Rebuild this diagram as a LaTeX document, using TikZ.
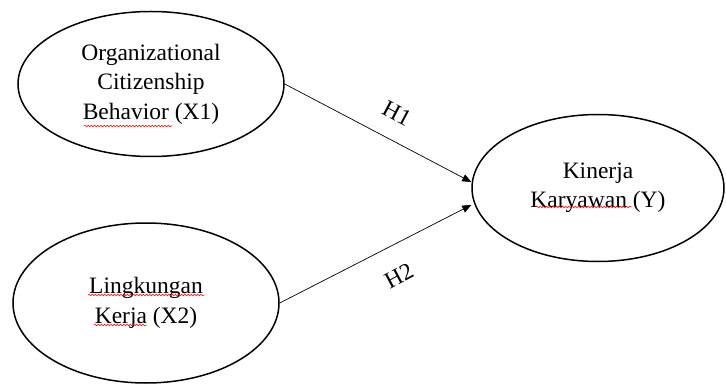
\documentclass[tikz,border=0pt]{standalone}
\usepackage{fontspec}
\setmainfont{Liberation Serif}
\usetikzlibrary{shapes.geometric,arrows.meta,calc,decorations.pathmorphing}
\begin{document}
\begin{tikzpicture}[x=1pt,y=-1pt,
  var/.style={ellipse,draw,line width=1.5pt,inner sep=0pt,align=center,
    font=\fontsize{23.5}{29.5}\selectfont},
  path/.style={line width=0.7pt,-{Triangle[length=9pt,width=7.5pt]}},
  hyp/.style={font=\fontsize{23.5}{27}\selectfont,inner sep=0pt},
  wave/.style={red,line width=0.5pt,decorate,decoration={snake,amplitude=0.9pt,segment length=3.2pt}}]
\useasboundingbox (0,0) rectangle (726,385);
\node[var,minimum width=266pt,minimum height=145pt] (a) at (151,84)
  {Organizational\\Citizenship\\Behavior (X1)};
\node[var,minimum width=266pt,minimum height=160pt] (b) at (146,303)
  {Lingkungan\\Kerja (X2)};
\node[var,minimum width=252pt,minimum height=147pt] (c) at (598,188)
  {Kinerja\\Karyawan (Y)};
\coordinate (t1) at ($(c.west)+(0,-6)$);
\coordinate (t2) at ($(c.west)+(0,17)$);
\draw[path] (a.east) -- (t1);
\draw[path] (b.east) -- (t2);
\node[hyp,rotate=-28] (h1) at (397,113) {H1};
\node[hyp,rotate=28] (h2) at (399,276) {H2};
\draw[wave] ($(a.center)+(-67,42)$) -- ($(a.center)+(21,42)$);
\draw[wave] ($(b.center)+(-58,-8)$) -- ($(b.center)+(58,-8)$);
\draw[wave] ($(b.center)+(-52,22)$) -- ($(b.center)+(1,22)$);
\draw[wave] ($(c.center)+(-62,19)$) -- ($(c.center)+(34,19)$);
\end{tikzpicture}
\end{document}
